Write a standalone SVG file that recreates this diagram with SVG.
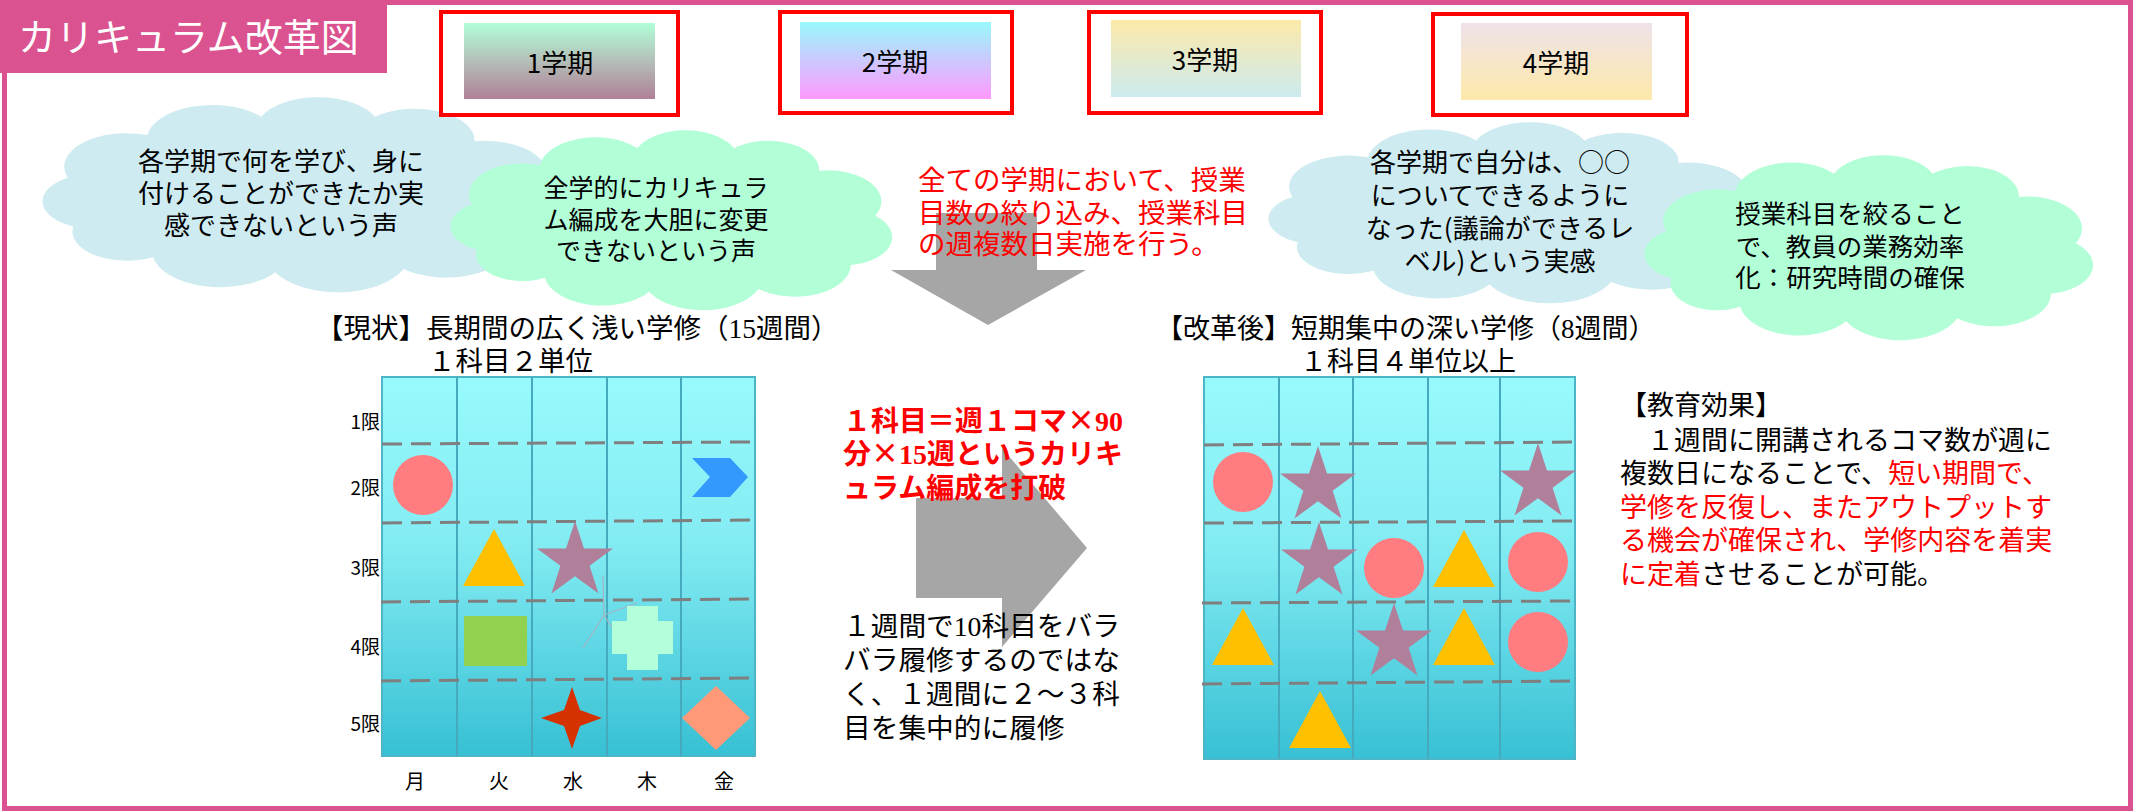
<svg xmlns="http://www.w3.org/2000/svg" width="2134" height="811" viewBox="0 0 2134 811">
<defs>
<style>
text{font-family:"Noto Sans CJK JP","Noto Sans",sans-serif;fill:#000}
.ser{font-family:"Liberation Serif","Noto Serif",serif}
.term{font-size:26px;text-anchor:middle}
.cl{text-anchor:middle}
.red{fill:#FF0000}
.blk{fill:#000}
.redbox{fill:none;stroke:#FF0000;stroke-width:4}
.dash{stroke:#7F7F7F;stroke-width:3;stroke-dasharray:20 9;fill:none}
.col{stroke:#45AABD;stroke-width:2}
.lbl{font-size:19px}
.day{font-size:20px;text-anchor:middle}
.arrow{fill:#A6A6A6}
.cblue{fill:#CDEBF0}
.cmint{fill:#B1FED7}
.pink{fill:#FF7C80}
.mauve{fill:#B0809A}
.yel{fill:#FFC000}
</style>
<linearGradient id="g1" x1="0" y1="0" x2="0" y2="1"><stop offset="0" stop-color="#B0FFD8"/><stop offset="0.5" stop-color="#B4BFB8"/><stop offset="1" stop-color="#B08098"/></linearGradient>
<linearGradient id="g2" x1="0" y1="0" x2="0" y2="1"><stop offset="0" stop-color="#98F8FC"/><stop offset="1" stop-color="#FF99FF"/></linearGradient>
<linearGradient id="g3" x1="0" y1="0" x2="0" y2="1"><stop offset="0" stop-color="#FDE9A9"/><stop offset="1" stop-color="#CCEBEF"/></linearGradient>
<linearGradient id="g4" x1="0" y1="0" x2="0" y2="1"><stop offset="0" stop-color="#EFE2E9"/><stop offset="1" stop-color="#FDE9A9"/></linearGradient>
<linearGradient id="gg" x1="0" y1="0" x2="0" y2="1"><stop offset="0" stop-color="#98FAFC"/><stop offset="0.45" stop-color="#82EBF2"/><stop offset="1" stop-color="#37C0D4"/></linearGradient>
<path id="cloud" d="M10,53 A22,22 0 0 1 38,25 A23,23 0 0 1 78,13 A22,22 0 0 1 118,13 A21,21 0 0 1 153,29 A22,22 0 0 1 176,61 A20,20 0 0 1 166,96 A23,23 0 0 1 128,113 A25,25 0 0 1 83,115 A24,24 0 0 1 40,105 A19,19 0 0 1 12,85 A18,18 0 0 1 10,53 Z"/>
<polygon id="star" points="0,-40 9,-12.4 38,-12.4 14.6,4.7 23.5,32.4 0,15.3 -23.5,32.4 -14.6,4.7 -38,-12.4 -9,-12.4"/>
<polygon id="tri" points="0,0 31,57 -31,57"/>
</defs>

<rect x="0" y="0" width="2134" height="811" fill="#FFFFFF"/>
<rect id="frame" x="4.5" y="2.5" width="2126" height="806" fill="#FFFFFF" stroke="#DB5290" stroke-width="5"/>

<g id="title">
<rect x="0" y="0" width="387" height="73" fill="#DB5290"/>
<text x="18" y="51" font-size="38" style="fill:#FFFFFF">カリキュラム改革図</text>
</g>

<g id="cloud-a">
<use href="#cloud" class="cblue" transform="translate(39.2,97) scale(2.846,1.523)"/>
<text class="cl" font-size="26"><tspan x="281" y="171">各学期で何を学び、身に</tspan><tspan x="281" y="203">付けることができたか実</tspan><tspan x="281" y="235">感できないという声</tspan></text>
</g>
<g id="cloud-b">
<use href="#cloud" class="cmint" transform="translate(447.6,130) scale(2.429,1.406)"/>
<text class="cl" font-size="25"><tspan x="656" y="197">全学的にカリキュラ</tspan><tspan x="656" y="229">ム編成を大胆に変更</tspan><tspan x="656" y="260">できないという声</tspan></text>
</g>
<g id="cloud-c">
<use href="#cloud" class="cblue" transform="translate(1265.3,122) scale(2.703,1.414)"/>
<text class="cl" font-size="26"><tspan x="1500" y="172">各学期で自分は、○○</tspan><tspan x="1500" y="205">についてできるように</tspan><tspan x="1500" y="238">なった(議論ができるレ</tspan><tspan x="1500" y="271">ベル)という実感</tspan></text>
</g>
<g id="cloud-d">
<use href="#cloud" class="cmint" transform="translate(1641.5,155) scale(2.467,1.445)"/>
<text class="cl" font-size="25.5"><tspan x="1850" y="223">授業科目を絞ること</tspan><tspan x="1850" y="256">で、教員の業務効率</tspan><tspan x="1850" y="287">化：研究時間の確保</tspan></text>
</g>

<g id="term1">
<rect x="464" y="23" width="191" height="76" fill="url(#g1)"/>
<rect class="redbox" x="441" y="12" width="237" height="103"/>
<text class="term" x="560" y="73">1学期</text>
</g>
<g id="term2">
<rect x="800" y="22" width="191" height="77" fill="url(#g2)"/>
<rect class="redbox" x="780" y="12" width="232" height="101"/>
<text class="term" x="895" y="72">2学期</text>
</g>
<g id="term3">
<rect x="1111" y="20" width="190" height="77" fill="url(#g3)"/>
<rect class="redbox" x="1089" y="12" width="232" height="101"/>
<text class="term" x="1205" y="70">3学期</text>
</g>
<g id="term4">
<rect x="1461" y="23" width="191" height="77" fill="url(#g4)"/>
<rect class="redbox" x="1433" y="14" width="254" height="101"/>
<text class="term" x="1556" y="73">4学期</text>
</g>

<g id="connectors">
<polygon class="arrow" points="936,213 1037,213 1037,270 1086,270 988,325 891,270 936,270"/>
<polygon class="arrow" points="916,498 1002,498 1002,448 1087,548 1002,647 1002,598 916,598"/>
</g>

<g id="policy-note">
<text class="red" font-size="27.5"><tspan x="918" y="190">全ての学期において、授業</tspan><tspan x="918" y="223">目数の絞り込み、授業科目</tspan><tspan x="918" y="254">の週複数日実施を行う。</tspan></text>
</g>

<g id="grid-current">
<text font-size="27.5"><tspan x="316" y="338">【現状】長期間の広く浅い学修（<tspan class="ser">15</tspan>週間）</tspan><tspan x="428" y="371">１科目２単位</tspan></text>
<rect x="382" y="377" width="373" height="379" fill="url(#gg)" stroke="#4DB6C6" stroke-width="2"/>
<line class="col" x1="457" y1="377" x2="457" y2="756"/>
<line class="col" x1="532" y1="377" x2="532" y2="756"/>
<line class="col" x1="607" y1="377" x2="607" y2="756"/>
<line class="col" x1="681" y1="377" x2="681" y2="756"/>
<line class="dash" x1="382" y1="444" x2="752" y2="442"/>
<line class="dash" x1="382" y1="523" x2="752" y2="520"/>
<line class="dash" x1="381" y1="602" x2="750" y2="599"/>
<line class="dash" x1="381" y1="681" x2="750" y2="678"/>
<text class="lbl" x="380" y="429" text-anchor="end">1限</text>
<text class="lbl" x="380" y="495" text-anchor="end">2限</text>
<text class="lbl" x="380" y="575" text-anchor="end">3限</text>
<text class="lbl" x="380" y="654" text-anchor="end">4限</text>
<text class="lbl" x="380" y="731" text-anchor="end">5限</text>
<text class="day" x="415" y="789">月</text>
<text class="day" x="499" y="789">火</text>
<text class="day" x="573" y="789">水</text>
<text class="day" x="647" y="789">木</text>
<text class="day" x="724" y="789">金</text>
<circle class="pink" cx="423" cy="485" r="30"/>
<polygon fill="#3399FF" points="692,458 730,458 748,477 730,497 692,497 710,477"/>
<use href="#tri" class="yel" transform="translate(494,529)"/>
<use href="#star" class="mauve" transform="translate(575,561)"/>
<rect x="464" y="616" width="63" height="50" fill="#92D050"/>
<g stroke="#A3B4C4" stroke-width="1.2" fill="none">
<line x1="603" y1="576" x2="604" y2="615"/>
<line x1="604" y1="615" x2="583" y2="648"/>
<line x1="604" y1="615" x2="625" y2="648"/>
<line x1="604" y1="615" x2="637" y2="603"/>
</g>
<polygon fill="#B3FFD9" points="627,606 658,606 658,621 673,621 673,654 658,654 658,670 627,670 627,654 612,654 612,621 627,621"/>
<polygon fill="#D63100" points="572,687 580,710 602,718 580,726 572,749 564,726 541,718 564,710"/>
<polygon fill="#FF9977" points="716,686 750,718 716,750 682,718"/>
</g>

<g id="mid-text">
<text class="red" font-size="28" font-weight="bold"><tspan x="843" y="431">１科目＝週１コマ×<tspan class="ser">90</tspan></tspan><tspan x="843" y="464">分×<tspan class="ser">15</tspan>週というカリキ</tspan><tspan x="843" y="498">ュラム編成を打破</tspan></text>
<text font-size="27.7"><tspan x="843" y="636">１週間で<tspan class="ser">10</tspan>科目をバラ</tspan><tspan x="843" y="670">バラ履修するのではな</tspan><tspan x="843" y="704">く、１週間に２～３科</tspan><tspan x="843" y="738">目を集中的に履修</tspan></text>
</g>

<g id="grid-reform">
<text font-size="27"><tspan x="1156" y="338">【改革後】短期集中の深い学修（<tspan class="ser">8</tspan>週間）</tspan><tspan x="1300" y="371">１科目４単位以上</tspan></text>
<rect x="1204" y="377" width="371" height="382" fill="url(#gg)" stroke="#4DB6C6" stroke-width="2"/>
<line class="col" x1="1279" y1="377" x2="1279" y2="759"/>
<line class="col" x1="1353" y1="377" x2="1353" y2="759"/>
<line class="col" x1="1428" y1="377" x2="1428" y2="759"/>
<line class="col" x1="1500" y1="377" x2="1500" y2="759"/>
<line class="dash" x1="1204" y1="445" x2="1572" y2="442"/>
<line class="dash" x1="1204" y1="523" x2="1572" y2="521"/>
<line class="dash" x1="1202" y1="603" x2="1572" y2="601"/>
<line class="dash" x1="1202" y1="684" x2="1572" y2="681"/>
<circle class="pink" cx="1243" cy="482" r="30"/>
<use href="#star" class="mauve" transform="translate(1318,486)"/>
<use href="#star" class="mauve" transform="translate(1538,483)"/>
<use href="#star" class="mauve" transform="translate(1319,562)"/>
<circle class="pink" cx="1394" cy="568" r="30"/>
<use href="#tri" class="yel" transform="translate(1464,530)"/>
<circle class="pink" cx="1538" cy="562" r="30"/>
<use href="#tri" class="yel" transform="translate(1243,608)"/>
<use href="#star" class="mauve" transform="translate(1394,643)"/>
<use href="#tri" class="yel" transform="translate(1464,608)"/>
<circle class="pink" cx="1538" cy="642" r="30"/>
<use href="#tri" class="yel" transform="translate(1320,691)"/>
</g>

<g id="effect">
<text font-size="27"><tspan x="1620" y="415">【教育効果】</tspan><tspan x="1620" y="450">　１週間に開講されるコマ数が週に</tspan><tspan x="1620" y="483">複数日になることで、<tspan class="red">短い期間で、</tspan></tspan><tspan class="red" x="1620" y="517">学修を反復し、またアウトプットす</tspan><tspan class="red" x="1620" y="550">る機会が確保され、学修内容を着実</tspan><tspan x="1620" y="584"><tspan class="red">に定着</tspan>させることが可能。</tspan></text>
</g>
</svg>
